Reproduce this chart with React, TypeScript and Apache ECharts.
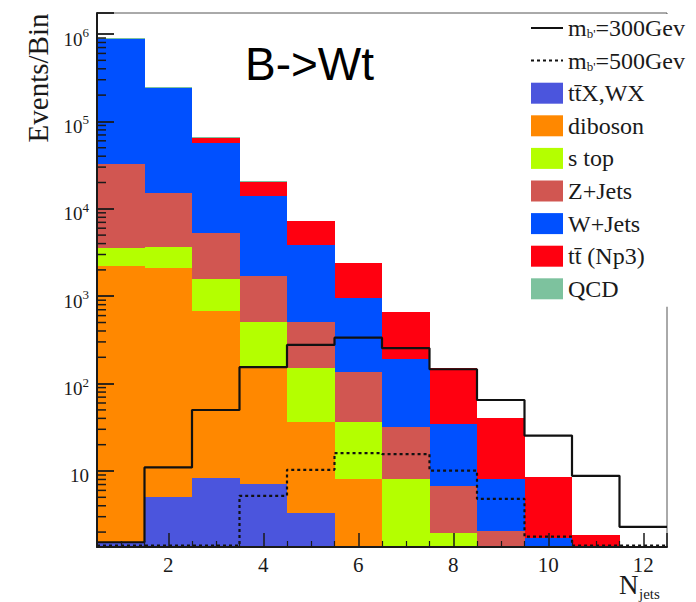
import React, { useEffect, useRef } from 'react';
import * as echarts from 'echarts';

// ---- data ----
const nJets = [1, 2, 3, 4, 5, 6, 7, 8, 9, 10, 11, 12];
const ttXWX = [1.5, 5.1, 8.3, 7.1, 3.3, 0, 0, 0, 0, 0, 0, 0];
const diboson = [2230, 2075, 670, 147, 33.3, 8.0, 0, 0, 0, 0, 0, 0];
const sTop = [1360, 1600, 882, 357, 113, 28.6, 8.0, 1.94, 0, 0, 0, 0];
const zJets = [28700, 11620, 3770, 1189, 352, 100, 24.2, 4.86, 2.05, 0, 0, 0];
const wJets = [845000, 227700, 51670, 12300, 3348, 809, 158.8, 27.7, 5.95, 1.7, 0, 0];
const ttbarNp3 = [0, 0, 7000, 6100, 3460, 1434, 475, 115.5, 32.7, 6.8, 1.85, 0];
const qcd = [18000, 5000, 2800, 550, 0, 0, 0, 0, 0, 0, 0, 0];
const mb300 = [1.53, 11.0, 49.9, 154, 277, 335, 254, 146, 64.9, 25.4, 8.8, 2.3];
const mb500 = [1.4, 1.4, 1.4, 5.2, 10.3, 16.0, 15.6, 10.1, 4.8, 1.77, 1.4, 1.4];

const Y_MIN = 1.35;
const Y_MAX = 1.74e6;
const X_MIN = 0.5;
const X_MAX = 12.5;

const SERIF = 'Liberation Serif';
const INK = '#1a1a1a';

const processes = [
  { name: 'tt\u0304X,WX', values: ttXWX, color: '#4B55DD' },
  { name: 'diboson', values: diboson, color: '#FF8800' },
  { name: 's top', values: sTop, color: '#B4FF00' },
  { name: 'Z+Jets', values: zJets, color: '#D15651' },
  { name: 'W+Jets', values: wJets, color: '#0050FF' },
  { name: 'tt\u0304 (Np3)', values: ttbarNp3, color: '#FF0010' },
  { name: 'QCD', values: qcd, color: '#7DC29E' },
];

const L300 = "mb'=300Gev";
const L500 = "mb'=500Gev";

function buildOption() {
  const cum = nJets.map(() => 0);
  const stackSeries = processes.map((p) => {
    const data = nJets.map((x, i) => {
      const lo = cum[i];
      const hi = lo + p.values[i];
      cum[i] = hi;
      return [x, Math.max(lo, Y_MIN), hi];
    });
    return {
      type: 'custom',
      name: p.name,
      data,
      encode: { x: 0, y: [1, 2] },
      itemStyle: { color: p.color },
      z: 2,
      renderItem: (params: any, api: any) => {
        const x = api.value(0);
        const lo = api.value(1);
        const hi = api.value(2);
        if (!(hi > lo) || hi <= Y_MIN) return null;
        const a = api.coord([x - 0.5, hi]);
        const b = api.coord([x + 0.5, lo]);
        const x0 = Math.round(a[0]);
        const x1 = Math.round(b[0]);
        const y0 = Math.round(a[1]);
        const y1 = Math.round(b[1]);
        return {
          type: 'rect',
          shape: { x: x0, y: y0, width: x1 - x0, height: y1 - y0 },
          style: { fill: api.visual('color') },
        };
      },
    };
  });

  const edgePoints = (vals: number[]) => [
    ...nJets.map((x, i) => [x - 0.5, vals[i]]),
    [nJets[nJets.length - 1] + 0.5, vals[vals.length - 1]],
  ];

  const minorY: number[][] = [];
  for (let d = 0; d <= 6; d++) {
    for (let k = 2; k <= 9; k++) {
      const v = k * Math.pow(10, d);
      if (v > Y_MIN && v < Y_MAX) minorY.push([X_MIN, v]);
    }
  }

  return {
    animation: false,
    backgroundColor: '#ffffff',
    grid: {
      left: 97,
      top: 13,
      right: 29,
      bottom: 55,
      show: true,
      borderColor: '#555',
      borderWidth: 1,
    },
    xAxis: {
      type: 'value',
      min: X_MIN,
      max: X_MAX,
      splitNumber: 6,
      z: 10,
      axisLine: { show: true, lineStyle: { color: INK, width: 2 } },
      axisTick: { show: true, inside: true, length: 14, lineStyle: { color: INK, width: 1.5 } },
      minorTick: { show: true, splitNumber: 4, length: 6, lineStyle: { color: INK, width: 1.2 } },
      splitLine: { show: false },
      axisLabel: {
        fontFamily: SERIF,
        fontSize: 21,
        lineHeight: 16,
        color: INK,
        margin: 10,
        formatter: (v: number) => (Number.isInteger(v) ? String(v) : ''),
      },
    },
    yAxis: {
      type: 'log',
      logBase: 10,
      min: Y_MIN,
      max: Y_MAX,
      splitNumber: 5,
      z: 10,
      axisLine: { show: true, lineStyle: { color: INK, width: 2 } },
      axisTick: { show: true, inside: true, length: 17, lineStyle: { color: INK, width: 1.8 } },
      splitLine: { show: false },
      axisLabel: {
        fontFamily: SERIF,
        fontSize: 19,
        color: INK,
        margin: 8,
        padding: [10, 0, 0, 0],
        formatter: (v: number) => {
          const e = Math.log10(v);
          const n = Math.round(e);
          if (Math.abs(e - n) > 1e-6 || n < 1) return '';
          return n === 1 ? '{b|10}' : `{b|10}{e|${n}}`;
        },
        rich: {
          b: { fontFamily: SERIF, fontSize: 19, color: INK, lineHeight: 26 },
          e: { fontFamily: SERIF, fontSize: 13, color: INK, verticalAlign: 'top', lineHeight: 13 },
        },
      },
    },
    legend: {
      orient: 'vertical',
      left: 528,
      top: 14,
      padding: [2, 4, 6, 2],
      itemWidth: 32,
      itemHeight: 21,
      itemGap: 8.6,
      backgroundColor: '#ffffff',
      data: [
        { name: L300, itemStyle: { opacity: 0 } },
        { name: L500, itemStyle: { opacity: 0 } },
        ...processes.map((p) => ({ name: p.name, icon: 'rect' })),
      ],
      formatter: (name: string) => {
        if (name === L300) return "{n|m}{s|b'}{n|=300Gev}";
        if (name === L500) return "{n|m}{s|b'}{n|=500Gev}";
        return `{n|${name}}`;
      },
      textStyle: {
        fontFamily: SERIF,
        fontSize: 24,
        color: INK,
        rich: {
          n: { fontFamily: SERIF, fontSize: 24, color: INK },
          s: { fontFamily: SERIF, fontSize: 13, color: INK, verticalAlign: 'bottom' },
        },
      },
    },
    graphic: [
      {
        type: 'text',
        x: 38,
        y: 78,
        rotation: Math.PI / 2,
        style: {
          text: 'Events/Bin',
          font: `29px "${SERIF}"`,
          fill: INK,
          align: 'center',
          verticalAlign: 'middle',
        },
      },
      {
        type: 'text',
        x: 245,
        y: 64,
        style: {
          text: 'B->Wt',
          font: '46px "Liberation Sans"',
          fill: '#000',
          align: 'left',
          verticalAlign: 'middle',
        },
      },
      {
        type: 'text',
        x: 619,
        y: 585,
        style: {
          text: 'N',
          font: `27px "${SERIF}"`,
          lineHeight: 21,
          fill: INK,
          align: 'left',
          verticalAlign: 'middle',
        },
      },
      {
        type: 'text',
        x: 639,
        y: 594,
        style: {
          text: 'jets',
          font: `15px "${SERIF}"`,
          lineHeight: 13,
          fill: INK,
          align: 'left',
          verticalAlign: 'middle',
        },
      },
    ],
    series: [
      ...stackSeries,
      {
        type: 'custom',
        name: 'minorTicksY',
        data: minorY,
        encode: { x: 0, y: 1 },
        z: 12,
        silent: true,
        renderItem: (params: any, api: any) => {
          const p = api.coord([api.value(0), api.value(1)]);
          return {
            type: 'line',
            shape: { x1: p[0], y1: p[1], x2: p[0] + 9, y2: p[1] },
            style: { stroke: INK, lineWidth: 1.5 },
          };
        },
      },
      {
        type: 'line',
        name: L300,
        data: edgePoints(mb300),
        step: 'end',
        symbol: 'none',
        z: 6,
        lineStyle: { color: '#111', width: 2.2, type: 'solid' },
        itemStyle: { color: '#111' },
      },
      {
        type: 'line',
        name: L500,
        data: edgePoints(mb500),
        step: 'end',
        symbol: 'none',
        z: 6,
        lineStyle: { color: '#111', width: 2.2, type: [3, 3] },
        itemStyle: { color: '#111' },
      },
    ],
  };
}

export default function App() {
  const ref = useRef<HTMLDivElement>(null);
  useEffect(() => {
    if (!ref.current) return;
    const chart = echarts.init(ref.current, null, { renderer: 'svg' });
    chart.setOption(buildOption() as any);
    return () => chart.dispose();
  }, []);
  return (
    <div
      ref={ref}
      style={{ position: 'fixed', left: 0, top: 0, width: 696, height: 602, background: '#fff' }}
    />
  );
}
